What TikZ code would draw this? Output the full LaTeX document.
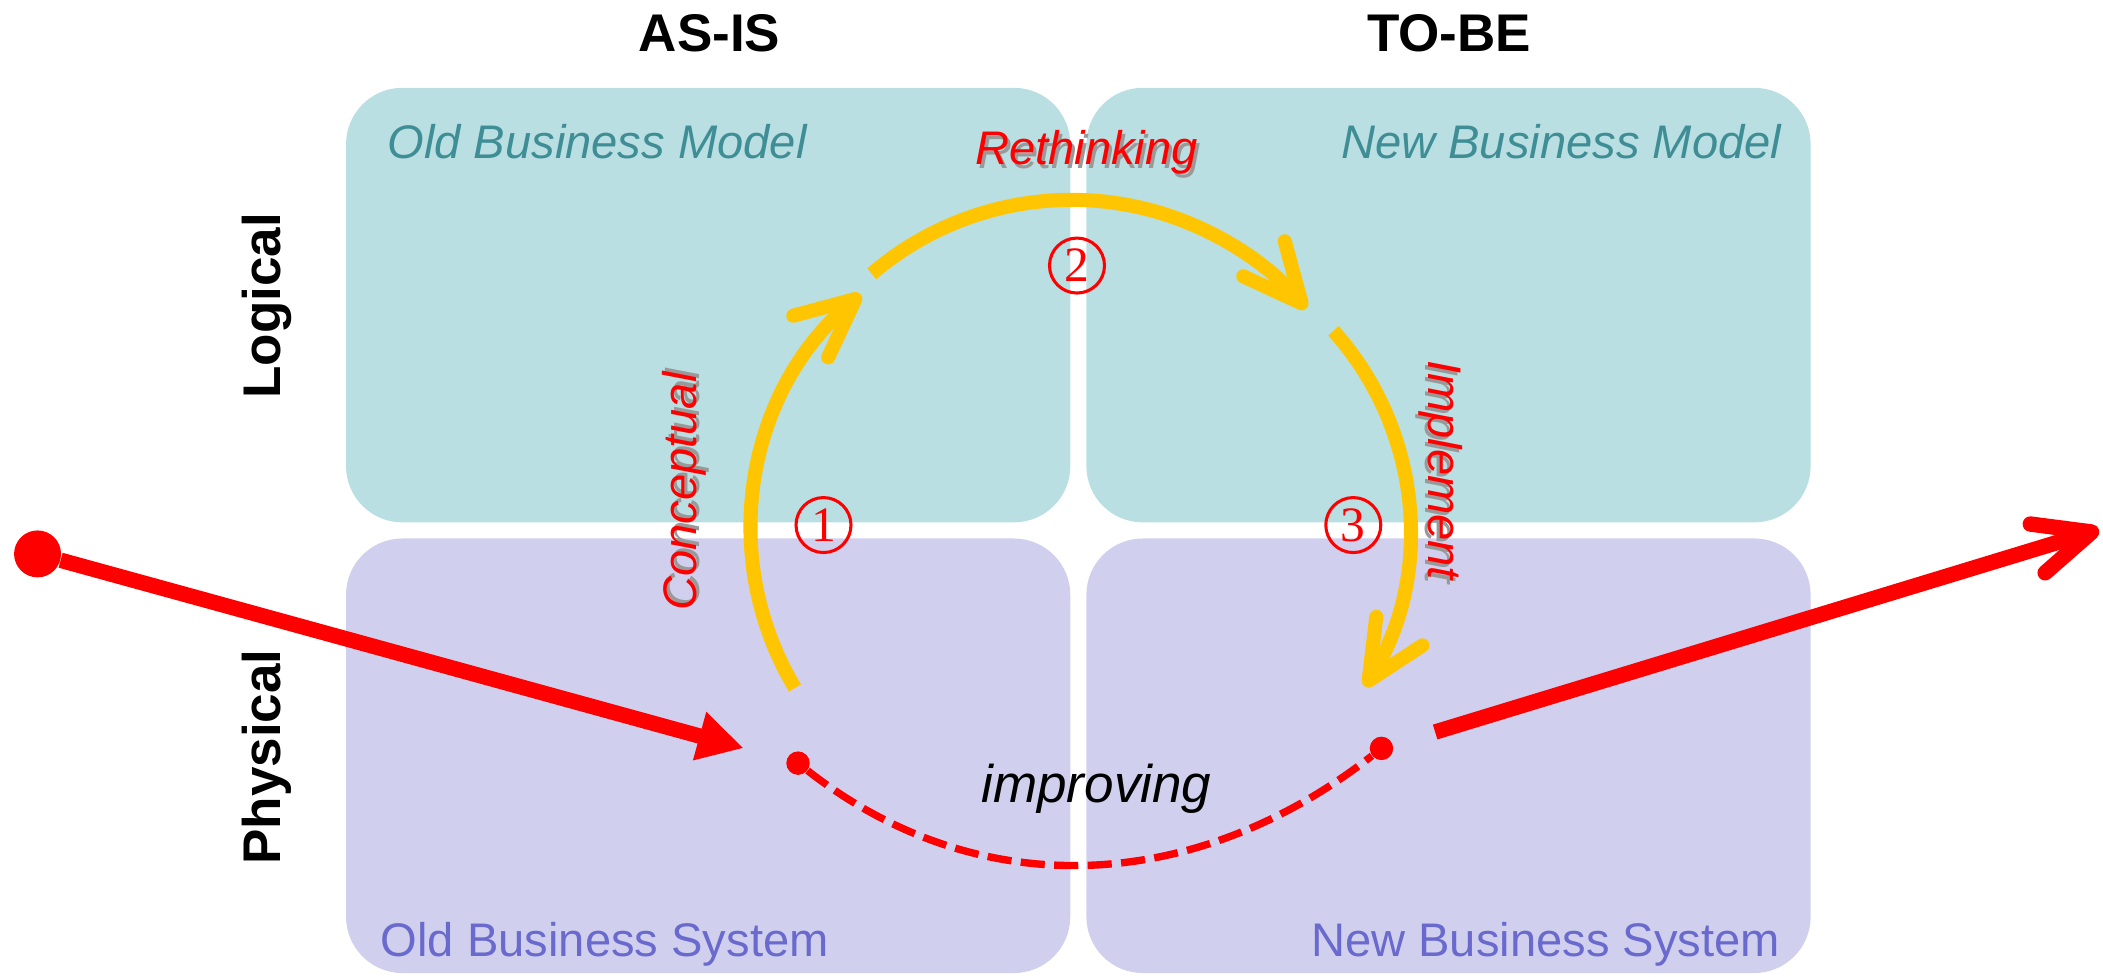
\documentclass[tikz,border=0pt]{standalone}
\usepackage{fontspec}
\setmainfont{Liberation Sans}
\newfontfamily\numfont{Liberation Serif}
\usetikzlibrary{arrows.meta,positioning}
\definecolor{modelfill}{HTML}{B9DFE3}
\definecolor{systemfill}{HTML}{D0D0EE}
\definecolor{modeltext}{HTML}{3F8E95}
\definecolor{systemtext}{HTML}{6A6ACE}
\definecolor{cycle}{HTML}{FFC500}
\newcommand{\shadowed}[1]{\rlap{\kern1.3pt\raisebox{-1.3pt}{\textcolor{black!40}{#1}}}#1}
\tikzset{
  quad/.style={rectangle,rounded corners=0.84cm,minimum width=10.8cm,minimum height=6.48cm,inner sep=0pt},
  head/.style={font=\fontsize{22.5}{27}\selectfont\bfseries},
  modellabel/.style={font=\fontsize{20}{24}\selectfont\itshape,text=modeltext},
  systemlabel/.style={font=\fontsize{20}{24}\selectfont,text=systemtext},
  steptext/.style={font=\fontsize{20}{24}\selectfont\itshape,text=red},
  stepnum/.style={circle,draw=red,line width=1.3pt,inner sep=0pt,minimum size=0.82cm,text=red,font=\numfont\fontsize{21}{24}\selectfont},
  cyclearrow/.style={draw=cycle,line width=0.21cm,-{Straight Barb[length=0.87cm,width=0.81cm,round]}},
  flow/.style={draw=red,line width=0.23cm},
  dot/.style={circle,fill=red,inner sep=0pt,minimum size=#1},
}
\begin{document}
\begin{tikzpicture}[x=2cm,y=2cm]
\useasboundingbox (0,0) rectangle (15.68,7.28);
% quadrants
\node[quad,fill=modelfill] (oldmodel) at (5.28,5.005) {};
\node[quad,fill=modelfill] (newmodel) at (10.80,5.005) {};
\node[quad,fill=systemfill] (oldsystem) at (5.28,1.645) {};
\node[quad,fill=systemfill] (newsystem) at (10.80,1.645) {};
\node[modellabel,anchor=base west] (oldmodeltext) at ([shift={(0.25,-0.53)}]oldmodel.north west) {Old Business Model};
\node[modellabel,anchor=base east] (newmodeltext) at ([shift={(-0.16,-0.53)}]newmodel.north east) {New Business Model};
\node[systemlabel,anchor=base west] (oldsystemtext) at ([shift={(0.20,0.13)}]oldsystem.south west) {Old Business System};
\node[systemlabel,anchor=base east] (newsystemtext) at ([shift={(-0.17,0.13)}]newsystem.south east) {New Business System};
% headings
\node[head,anchor=base] (asis) at (5.29,6.895) {AS-IS};
\node[head,anchor=base] (tobe) at (10.805,6.895) {TO-BE};
\node[head,rotate=90,anchor=base] (logical) at (2.09,5.00) {Logical};
\node[head,rotate=90,anchor=base] (physical) at (2.09,1.635) {Physical};
% cycle
\draw[cyclearrow] ([shift={(211:2.29)}]7.89,3.33) arc[start angle=211,end angle=130,radius=2.29];
\draw[cyclearrow] ([shift={(130.6:2.29)}]7.99,3.50) arc[start angle=130.6,end angle=40.2,radius=2.29];
\draw[cyclearrow] ([shift={(41.9:2.22)}]8.29,3.33) arc[start angle=41.9,end angle=-31.8,radius=2.22];
\node[stepnum] (one) at (6.14,3.365) {1};
\node[stepnum] (two) at (8.03,5.30) {2};
\node[stepnum] (three) at (10.09,3.365) {3};
\node[steptext,anchor=base] (rethink) at (8.10,6.05) {\shadowed{Rethinking}};
\node[steptext,rotate=90,anchor=base] (concept) at (5.19,3.615) {\shadowed{Conceptual}};
\node[steptext,rotate=-90,anchor=base] (implement) at (10.65,3.775) {\shadowed{Implement}};
% way through
\node[dot=0.7cm] (entry) at (0.28,3.15) {};
\node[dot=0.35cm] (asisdot) at (5.95,1.59) {};
\node[dot=0.35cm] (tobedot) at (10.30,1.70) {};
\coordinate (finish) at (15.65,3.33);
\draw[flow,-{Triangle[length=0.68cm,width=0.7cm]},shorten >=0.66cm] (entry) -- (asisdot);
\draw[flow,-{Straight Barb[length=0.84cm,width=0.76cm,round]},shorten <=0.655cm] (tobedot) -- (finish);
\draw[red,line width=0.11cm,dash pattern=on 0.36cm off 0.14cm] (asisdot) to[out=-38,in=-142] (tobedot);
\node[font=\fontsize{22.5}{27}\selectfont\itshape,anchor=base] (improve) at (8.175,1.294) {improving};
\end{tikzpicture}
\end{document}
